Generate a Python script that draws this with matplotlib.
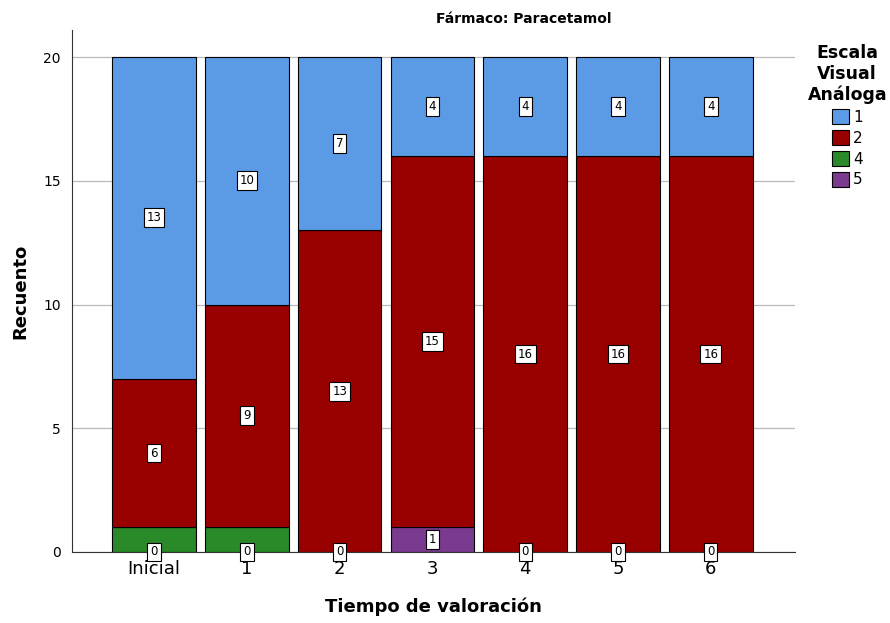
import matplotlib.pyplot as plt
import numpy as np
from matplotlib.patches import Patch

# datos
tiempos = ['Inicial', '1', '2', '3', '4', '5', '6']
eva_1 = [13, 10, 7, 4, 4, 4, 4]
eva_2 = [6, 9, 13, 15, 16, 16, 16]
eva_4 = [1, 1, 0, 0, 0, 0, 0]
eva_5 = [0, 0, 0, 1, 0, 0, 0]
etiquetas_base = ['0', '0', '0', '1', '0', '0', '0']

col_1 = '#5b9be6'
col_2 = '#990000'
col_4 = '#2a8a2a'
col_5 = '#7a3a8f'

fig = plt.figure(figsize=(8.9, 6.23), dpi=100)
ax = fig.add_axes([0.081, 0.114, 0.812, 0.838])

x = np.arange(len(tiempos))
w = 0.9
b4 = np.array(eva_4)
b5 = np.array(eva_5)
b2 = np.array(eva_2)
b1 = np.array(eva_1)

ax.bar(x, b4, w, color=col_4, edgecolor='black', linewidth=0.8, zorder=2)
ax.bar(x, b5, w, bottom=b4, color=col_5, edgecolor='black', linewidth=0.8, zorder=2)
ax.bar(x, b2, w, bottom=b4 + b5, color=col_2, edgecolor='black', linewidth=0.8, zorder=2)
ax.bar(x, b1, w, bottom=b4 + b5 + b2, color=col_1, edgecolor='black', linewidth=0.8, zorder=2)

box = dict(boxstyle='square,pad=0.25', facecolor='white', edgecolor='black', linewidth=0.8)
for i in range(len(tiempos)):
    base = b4[i] + b5[i]
    ypos = base / 2 if b5[i] > 0 else 0
    ax.text(x[i], ypos, etiquetas_base[i], ha='center', va='center', fontsize=8.5, bbox=box, zorder=4)
    ax.text(x[i], base + b2[i] / 2, str(eva_2[i]), ha='center', va='center', fontsize=8.5, bbox=box, zorder=4)
    ax.text(x[i], base + b2[i] + b1[i] / 2, str(eva_1[i]), ha='center', va='center', fontsize=8.5, bbox=box, zorder=4)

ax.set_xlim(-0.884, 6.905)
ax.set_ylim(0, 21.1)
ax.set_yticks([0, 5, 10, 15, 20])
ax.set_xticks(x)
ax.set_xticklabels(tiempos, fontsize=13)
ax.tick_params(axis='y', labelsize=10, length=0, pad=8)
ax.tick_params(axis='x', length=0, pad=6)
ax.yaxis.grid(True, color='#bbbbbb', linewidth=0.9, zorder=0)
ax.set_axisbelow(True)
ax.spines['top'].set_visible(False)
ax.spines['right'].set_visible(False)
ax.spines['left'].set_color('#333333')
ax.spines['bottom'].set_color('#333333')

ax.set_xlabel('Tiempo de valoración', fontsize=13, fontweight='bold', labelpad=14)
ax.set_ylabel('Recuento', fontsize=13, fontweight='bold', labelpad=10)
fig.text(0.588, 0.97, 'Fármaco: Paracetamol', ha='center', va='center', fontsize=10, fontweight='bold')

handles = [Patch(facecolor=c, edgecolor='black', linewidth=0.8) for c in [col_1, col_2, col_4, col_5]]
leg = fig.legend(handles, ['1', '2', '4', '5'], title='Escala\nVisual\nAnáloga',
                 loc='upper center', bbox_to_anchor=(0.952, 0.947), frameon=False,
                 fontsize=11, handlelength=1.1, handleheight=1.1, handletextpad=0.3,
                 labelspacing=0.35, borderpad=0.2,
                 title_fontproperties={'weight': 'bold', 'size': 12.5})
leg.get_title().set_multialignment('center')

fig.savefig('out.png', dpi=100)
